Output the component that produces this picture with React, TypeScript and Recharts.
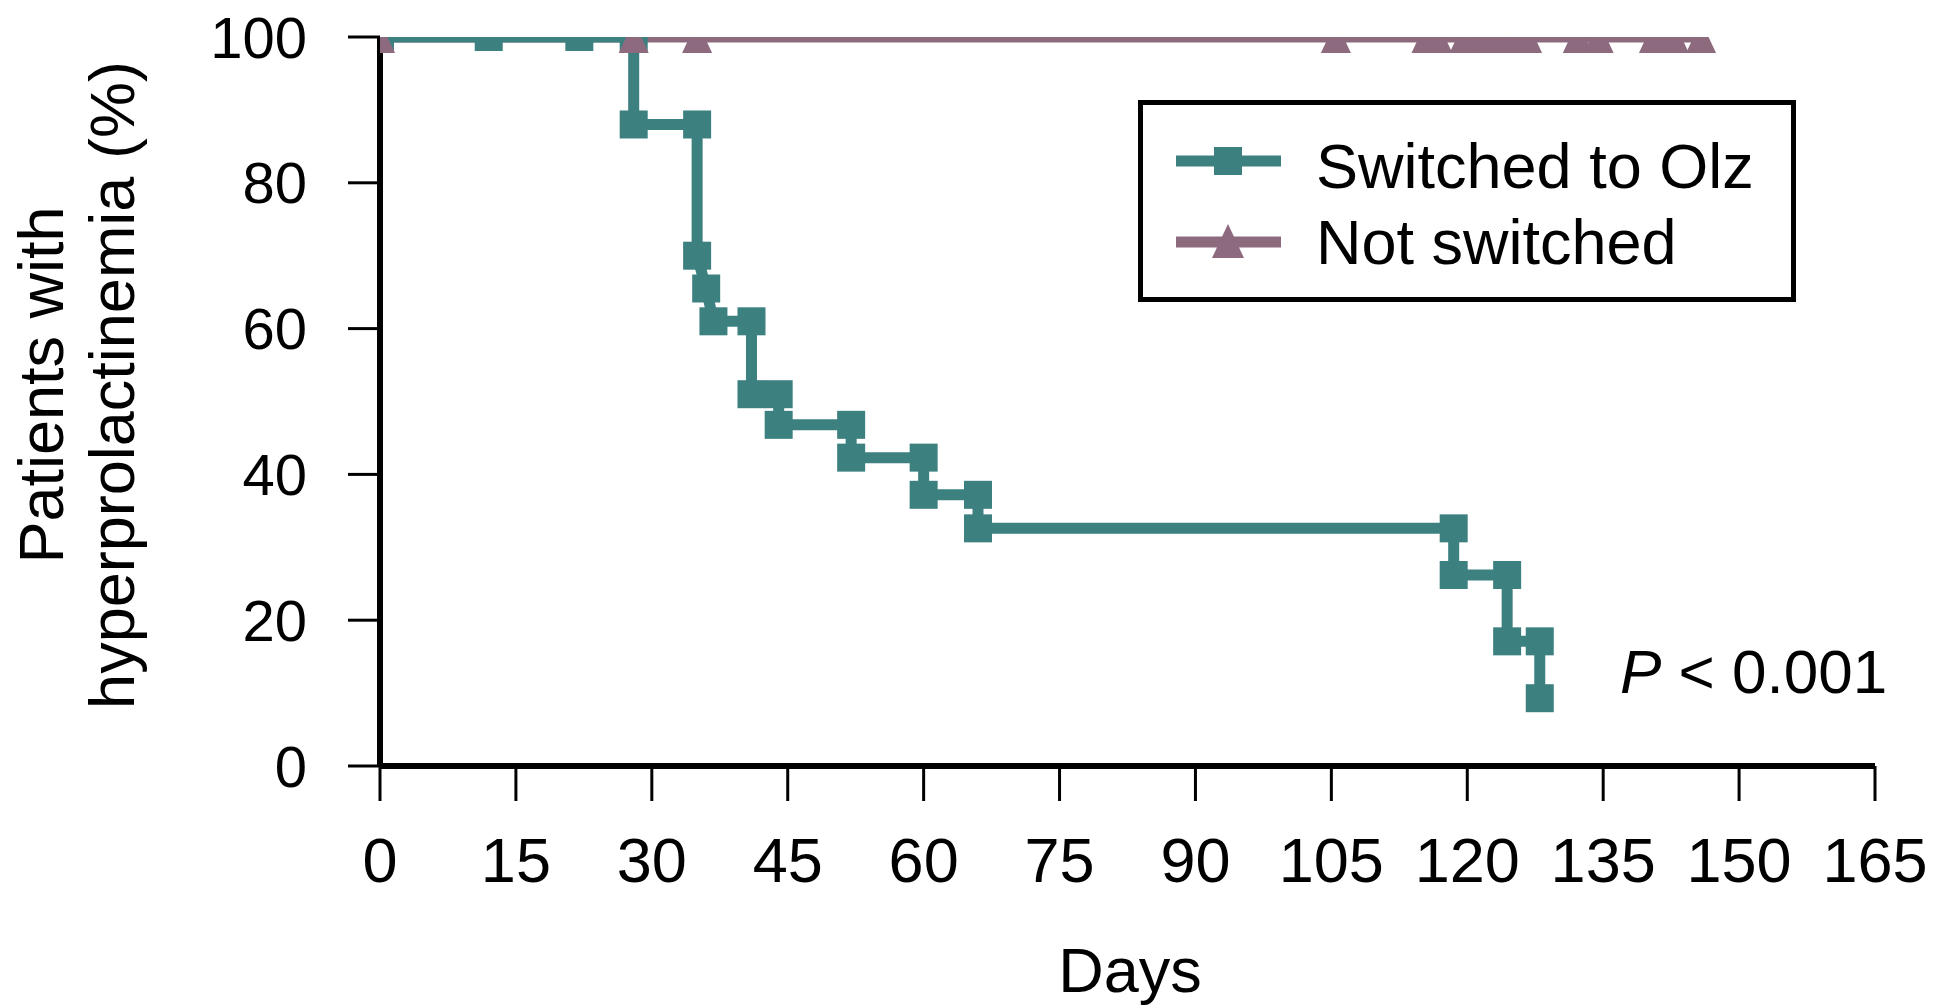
import React from 'react';
import { LineChart, Line, XAxis, YAxis } from 'recharts';

const TEAL = '#3d8080';
const MAUVE = '#8d6a7e';
const FONT = '"Liberation Sans", Arial, Helvetica, sans-serif';

// Switched to Olz: step-curve vertices (days, % with hyperprolactinemia)
const switchedDays = [0, 12, 22, 28, 28, 35, 35, 36, 36.8, 41, 41, 44, 44, 52, 52, 60, 60, 66, 66, 118.5, 118.5, 124.4, 124.4, 128, 128];
const switchedPct = [100, 100, 100, 100, 88, 88, 70, 65.5, 61, 61, 51, 51, 46.8, 46.8, 42.3, 42.3, 37.2, 37.2, 32.6, 32.6, 26.2, 26.2, 17.1, 17.1, 9.3];

// Not switched: all censored at 100%
const notSwitchedDays = [0, 28, 35, 105.5, 115.5, 116.7, 119.7, 120.9, 122.1, 123.4, 124.4, 125.6, 126.6, 132.2, 134.5, 140.6, 142.8, 145.8];
const notSwitchedPct = [100, 100, 100, 100, 100, 100, 100, 100, 100, 100, 100, 100, 100, 100, 100, 100, 100, 100];

const xTicks = [0, 15, 30, 45, 60, 75, 90, 105, 120, 135, 150, 165];
const yTicks = [0, 20, 40, 60, 80, 100];

const seriesNames = ['Switched to Olz', 'Not switched'];

const switchedData = switchedDays.map((x, i) => ({ x, y: switchedPct[i] }));
const notSwitchedData = notSwitchedDays.map((x, i) => ({ x, y: notSwitchedPct[i] }));

const SQ = 28;
const squareDot = (props: any) => {
  const { cx, cy, index } = props;
  if (cx == null || cy == null) return <g key={`s-${index}`} />;
  return <rect key={`s-${index}`} x={cx - SQ / 2} y={cy - SQ / 2} width={SQ} height={SQ} fill={TEAL} />;
};

const triDot = (props: any) => {
  const { cx, cy, index } = props;
  if (cx == null || cy == null) return <g key={`t-${index}`} />;
  const w = 30;
  const h = 32;
  return (
    <polygon
      key={`t-${index}`}
      points={`${cx},${cy - h / 2} ${cx + w / 2},${cy + h / 2} ${cx - w / 2},${cy + h / 2}`}
      fill={MAUVE}
    />
  );
};

export default function App() {
  return (
    <div style={{ position: 'absolute', left: 0, top: 0, background: '#fff' }}>
      <LineChart
        width={1950}
        height={1007}
        margin={{ top: 37, right: 75, left: 180, bottom: 91 }}
      >
        <XAxis
          type="number"
          dataKey="x"
          domain={[0, 165]}
          ticks={xTicks}
          interval={0}
          height={150}
          tickSize={35}
          tickMargin={36}
          axisLine={{ stroke: '#000', strokeWidth: 6 }}
          tickLine={{ stroke: '#000', strokeWidth: 3 }}
          tick={{ fontSize: 63, fill: '#000', fontFamily: FONT }}
          allowDataOverflow
        />
        <YAxis
          type="number"
          dataKey="y"
          domain={[0, 100]}
          ticks={yTicks}
          interval={0}
          width={200}
          tickSize={32}
          tickMargin={41}
          axisLine={{ stroke: '#000', strokeWidth: 6 }}
          tickLine={{ stroke: '#000', strokeWidth: 3 }}
          tick={{ fontSize: 58, fill: '#000', fontFamily: FONT }}
          allowDataOverflow
        />
        <Line
          data={notSwitchedData}
          dataKey="y"
          name={seriesNames[1]}
          type="linear"
          stroke={MAUVE}
          strokeWidth={11}
          dot={false}
          activeDot={false}
          isAnimationActive={false}
        />
        <Line
          data={switchedData}
          dataKey="y"
          name={seriesNames[0]}
          type="linear"
          stroke={TEAL}
          strokeWidth={11}
          strokeLinejoin="miter"
          dot={squareDot}
          activeDot={false}
          isAnimationActive={false}
        />
        <Line
          data={notSwitchedData}
          dataKey="y"
          name={seriesNames[1] + ' markers'}
          type="linear"
          stroke="none"
          dot={triDot}
          activeDot={false}
          legendType="none"
          isAnimationActive={false}
        />

        {/* Y axis title */}
        <text transform="translate(63,385) rotate(-90)" textAnchor="middle" fontSize={63} fontFamily={FONT} fill="#000">
          Patients with
        </text>
        <text transform="translate(134,385) rotate(-90)" textAnchor="middle" fontSize={63} fontFamily={FONT} fill="#000">
          hyperprolactinemia (%)
        </text>

        {/* X axis title */}
        <text x={1130} y={992} textAnchor="middle" fontSize={63} fontFamily={FONT} fill="#000">
          Days
        </text>

        {/* P value */}
        <text x={1620} y={693} fontSize={62} fontFamily={FONT} fill="#000">
          <tspan fontStyle="italic">P</tspan>
          <tspan> &lt; 0.001</tspan>
        </text>

        {/* Legend */}
        <g>
          <rect x={1140.5} y={102.5} width={653} height={197} fill="#fff" stroke="#000" strokeWidth={5} />
          <line x1={1176} x2={1281} y1={161} y2={161} stroke={TEAL} strokeWidth={11} />
          <rect x={1228 - 14} y={161 - 14} width={28} height={28} fill={TEAL} />
          <text x={1316} y={188} fontSize={63} fontFamily={FONT} fill="#000">{seriesNames[0]}</text>
          <line x1={1176} x2={1281} y1={242} y2={242} stroke={MAUVE} strokeWidth={11} />
          <polygon points={`1228,${242 - 18} ${1228 + 16},${242 + 16} ${1228 - 16},${242 + 16}`} fill={MAUVE} />
          <text x={1316} y={264} fontSize={63} fontFamily={FONT} fill="#000">{seriesNames[1]}</text>
        </g>
      </LineChart>
    </div>
  );
}
